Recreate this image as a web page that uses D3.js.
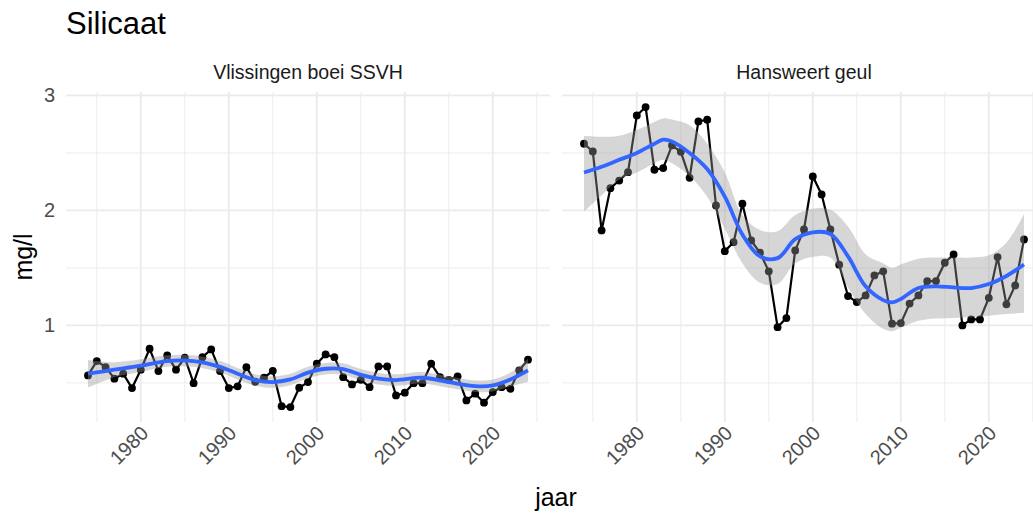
<!DOCTYPE html>
<meta charset="utf-8">
<style>
    body { margin: 0; background: #fff; }
    svg { display: block; font-family: "Liberation Sans", Arial, sans-serif; }
    .grid line { stroke: #ebebeb; }
    .axis text { fill: #4d4d4d; font-size: 20px; }
    .axis path, .axis line { display: none; }
</style>
<svg width="1033" height="513"></svg>
<script src="https://d3js.org/d3.v7.min.js"></script>
<script>

    // jaren 1974 - 2024
    var years = [1974, 1975, 1976, 1977, 1978, 1979, 1980, 1981, 1982, 1983,
                 1984, 1985, 1986, 1987, 1988, 1989, 1990, 1991, 1992, 1993,
                 1994, 1995, 1996, 1997, 1998, 1999, 2000, 2001, 2002, 2003,
                 2004, 2005, 2006, 2007, 2008, 2009, 2010, 2011, 2012, 2013,
                 2014, 2015, 2016, 2017, 2018, 2019, 2020, 2021, 2022, 2023, 2024];

    var vlissingen = [0.565, 0.69, 0.637, 0.537, 0.58, 0.455, 0.615, 0.797, 0.603, 0.739,
                      0.615, 0.719, 0.498, 0.724, 0.791, 0.603, 0.455, 0.47, 0.637, 0.51,
                      0.545, 0.605, 0.298, 0.29, 0.458, 0.507, 0.667, 0.748, 0.724, 0.55,
                      0.487, 0.527, 0.463, 0.643, 0.643, 0.391, 0.415, 0.498, 0.498, 0.667,
                      0.55, 0.527, 0.557, 0.348, 0.406, 0.328, 0.42, 0.463, 0.449, 0.609, 0.702];

    var hansweert = [2.58, 2.513, 1.826, 2.194, 2.26, 2.333, 2.826, 2.899, 2.354, 2.368,
                     2.565, 2.51, 2.284, 2.774, 2.789, 2.043, 1.646, 1.724, 2.058, 1.739,
                     1.632, 1.47, 0.985, 1.064, 1.652, 1.835, 2.296, 2.139, 1.835, 1.528,
                     1.255, 1.203, 1.261, 1.435, 1.47, 1.015, 1.02, 1.19, 1.261, 1.386,
                     1.386, 1.545, 1.617, 1.0, 1.052, 1.052, 1.24, 1.594, 1.183, 1.348, 1.748];

    var vlSmoothYears = [1974, 1977, 1980, 1983, 1986, 1989, 1991, 1993, 1995, 1997, 1999,
                         2001, 2003, 2005, 2007, 2009, 2012, 2015, 2018, 2020, 2022, 2024];
    var vlSmoothFit = [0.58, 0.615, 0.65, 0.69, 0.69, 0.64, 0.58, 0.525, 0.507, 0.53, 0.59,
                       0.623, 0.62, 0.57, 0.537, 0.525, 0.545, 0.507, 0.472, 0.478, 0.53, 0.609];
    var vlSmoothHi = [0.70, 0.68, 0.705, 0.74, 0.74, 0.69, 0.63, 0.575, 0.557, 0.58, 0.64,
                      0.673, 0.67, 0.62, 0.587, 0.575, 0.595, 0.557, 0.522, 0.53, 0.59, 0.71];
    var vlSmoothLo = [0.46, 0.55, 0.595, 0.64, 0.64, 0.59, 0.53, 0.475, 0.457, 0.48, 0.54,
                      0.573, 0.57, 0.52, 0.487, 0.475, 0.495, 0.457, 0.422, 0.426, 0.47, 0.51];

    var hwSmoothYears = [1974, 1976, 1978, 1980, 1982, 1983, 1984, 1986, 1988, 1990, 1992,
                         1994, 1996, 1998, 2000, 2002, 2004, 2006, 2008, 2009, 2010, 2012,
                         2014, 2016, 2018, 2020, 2022, 2024];
    var hwSmoothFit = [2.33, 2.38, 2.44, 2.50, 2.58, 2.615, 2.60, 2.50, 2.36, 2.12, 1.79,
                       1.60, 1.585, 1.75, 1.81, 1.795, 1.60, 1.34, 1.22, 1.20, 1.23, 1.325,
                       1.34, 1.33, 1.325, 1.36, 1.43, 1.53];
    var hwSmoothHi = [2.65, 2.64, 2.65, 2.70, 2.77, 2.80, 2.79, 2.74, 2.58, 2.33, 1.96,
                      1.83, 1.82, 1.96, 2.015, 2.005, 1.86, 1.62, 1.54, 1.50, 1.53, 1.58,
                      1.59, 1.59, 1.59, 1.61, 1.72, 1.97];
    var hwSmoothLo = [1.99, 2.13, 2.27, 2.33, 2.41, 2.44, 2.41, 2.30, 2.12, 1.84, 1.54,
                      1.37, 1.36, 1.54, 1.595, 1.59, 1.33, 1.10, 0.97, 0.95, 0.98, 1.04,
                      1.06, 1.065, 1.07, 1.085, 1.10, 1.11];

    var xMajor = [1980, 1990, 2000, 2010, 2020];
    var xMinor = [1975, 1985, 1995, 2005, 2015, 2025];
    var yMajor = [1, 2, 3];
    var yMinor = [0.5, 1.5, 2.5];

    var panels = [
        {name: "Vlissingen boei SSVH", values: vlissingen,
         sYears: vlSmoothYears, sFit: vlSmoothFit, sLo: vlSmoothLo, sHi: vlSmoothHi},
        {name: "Hansweert geul", values: hansweert,
         sYears: hwSmoothYears, sFit: hwSmoothFit, sLo: hwSmoothLo, sHi: hwSmoothHi}
    ];

    var svg = d3.select("svg");

    var panelTop = 92, panelBottom = 422,
        panelWidth = 484, panelLeft = 66, panelGap = 12;

    var y = d3.scaleLinear()
            .domain([0.16, 3.03])
            .range([panelBottom, panelTop]);

    svg.append("text")
            .attr("x", 66)
            .attr("y", 34)
            .attr("font-size", 31)
            .attr("fill", "#000")
            .text("Silicaat");

    panels.forEach(function(p, i) {
        var x0 = panelLeft + i * (panelWidth + panelGap);
        var x = d3.scaleLinear()
                .domain([1971.5, 2026.5])
                .range([x0, x0 + panelWidth]);

        var g = svg.append("g");

        // gridlijnen
        var grid = g.append("g").attr("class", "grid");
        grid.selectAll(".ymin").data(yMinor).enter().append("line")
                .attr("x1", x0).attr("x2", x0 + panelWidth)
                .attr("y1", y).attr("y2", y)
                .attr("stroke-width", 0.9);
        grid.selectAll(".xmin").data(xMinor).enter().append("line")
                .attr("x1", x).attr("x2", x)
                .attr("y1", panelTop).attr("y2", panelBottom)
                .attr("stroke-width", 0.9);
        grid.selectAll(".ymaj").data(yMajor).enter().append("line")
                .attr("x1", x0).attr("x2", x0 + panelWidth)
                .attr("y1", y).attr("y2", y)
                .attr("stroke-width", 1.8);
        grid.selectAll(".xmaj").data(xMajor).enter().append("line")
                .attr("x1", x).attr("x2", x)
                .attr("y1", panelTop).attr("y2", panelBottom)
                .attr("stroke-width", 1.8);

        // strip
        g.append("text")
                .attr("x", x0 + panelWidth / 2)
                .attr("y", 79)
                .attr("text-anchor", "middle")
                .attr("font-size", 19.5)
                .attr("fill", "#1a1a1a")
                .text(p.name);

        var pts = years.map(function(yr, j) { return [yr, p.values[j]]; });

        g.append("path")
                .datum(pts)
                .attr("fill", "none")
                .attr("stroke", "#000")
                .attr("stroke-width", 2.2)
                .attr("d", d3.line()
                        .x(function(d) { return x(d[0]); })
                        .y(function(d) { return y(d[1]); }));

        g.selectAll("circle.pt").data(pts).enter().append("circle")
                .attr("class", "pt")
                .attr("cx", function(d) { return x(d[0]); })
                .attr("cy", function(d) { return y(d[1]); })
                .attr("r", 3.9)
                .attr("fill", "#000");

        var sm = p.sYears.map(function(yr, j) {
            return {yr: yr, fit: p.sFit[j], lo: p.sLo[j], hi: p.sHi[j]};
        });
        var curve = d3.curveCatmullRom.alpha(0.5);

        g.append("path")
                .datum(sm)
                .attr("fill", "#999999")
                .attr("fill-opacity", 0.4)
                .attr("d", d3.area()
                        .curve(curve)
                        .x(function(d) { return x(d.yr); })
                        .y0(function(d) { return y(d.lo); })
                        .y1(function(d) { return y(d.hi); }));

        g.append("path")
                .datum(sm)
                .attr("fill", "none")
                .attr("stroke", "#3366FF")
                .attr("stroke-width", 3.8)
                .attr("d", d3.line()
                        .curve(curve)
                        .x(function(d) { return x(d.yr); })
                        .y(function(d) { return y(d.fit); }));

        // x-as labels
        var xa = g.append("g")
                .attr("class", "axis")
                .attr("transform", "translate(0," + (panelBottom + 6) + ")")
                .call(d3.axisBottom(x).tickValues(xMajor).tickSize(0).tickFormat(d3.format("d")));
        xa.selectAll("text")
                .attr("text-anchor", "end")
                .attr("y", 0)
                .attr("dy", "0.45em")
                .attr("transform", "translate(2,0) rotate(-45)");

        if (i === 0) {
            g.append("g")
                    .attr("class", "axis")
                    .attr("transform", "translate(" + (x0 - 8) + ",0)")
                    .call(d3.axisLeft(y).tickValues(yMajor).tickSize(0).tickFormat(d3.format("d")));
        }
    });

    svg.append("text")
            .attr("x", (panelLeft + panelLeft + 2 * panelWidth + panelGap) / 2)
            .attr("y", 506)
            .attr("text-anchor", "middle")
            .attr("font-size", 25)
            .attr("fill", "#000")
            .text("jaar");

    svg.append("text")
            .attr("transform", "translate(32," + ((panelTop + panelBottom) / 2) + ") rotate(-90)")
            .attr("text-anchor", "middle")
            .attr("font-size", 25)
            .attr("fill", "#000")
            .text("mg/l");

</script>
